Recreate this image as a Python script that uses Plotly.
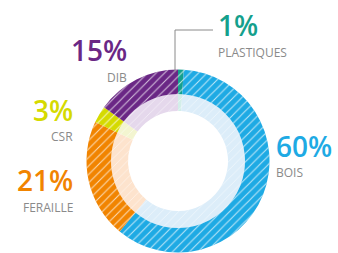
import plotly.graph_objects as go

categories = ["PLASTIQUES", "BOIS", "FERAILLE", "CSR", "DIB"]
values = [1, 60, 21, 3, 15]
pct_labels = ["1%", "60%", "21%", "3%", "15%"]
colors = ["#14a08c", "#1eaae4", "#f18400", "#d5da00", "#6a2785"]
light_colors = ["#d3eee9", "#dcedf9", "#fde3cd", "#f3f5d0", "#e5d8ec"]

W, H = 338, 253
cx, cy = 178, 161          # donut centre (px)
r_out, r_mid, r_hole = 91.5, 67, 50


def dom(r):
    return dict(x=[(cx - r) / W, (cx + r) / W],
                y=[(H - cy - r) / H, (H - cy + r) / H])


def ring(cols, hole, r, pattern=None):
    marker = dict(colors=cols, line=dict(width=0))
    if pattern:
        marker["pattern"] = pattern
    return go.Pie(labels=categories, values=values, sort=False,
                  direction="clockwise", rotation=0, hole=hole,
                  domain=dom(r), textinfo="none", showlegend=False,
                  marker=marker)


clear = ["rgba(0,0,0,0)"] * len(values)
fig = go.Figure()
fig.add_trace(ring(light_colors, r_hole / r_mid, r_mid))
fig.add_trace(ring(colors, r_mid / r_out, r_out))
# hatch overlays
fig.add_trace(ring(clear, r_mid / r_out, r_out,
                   dict(shape="/", fillmode="overlay", fgcolor="white",
                        fgopacity=0.7, size=6, solidity=0.18)))
fig.add_trace(ring(clear, r_hole / r_mid, r_mid,
                   dict(shape="/", fillmode="overlay", fgcolor="white",
                        fgopacity=0.5, size=6, solidity=0.15)))

grey = "#8a8a8a"
FONT = "Open Sans"
label_pos = [
    (0, 216, "left", 25, 52),
    (1, 274, "left", 146, 172),
    (2, 75, "right", 180, 207),
    (3, 75, "right", 110, 136),
    (4, 129, "right", 50, 77),
]
for i, xp, anc, yp, yn in label_pos:
    fig.add_annotation(x=xp / W, y=1 - yp / H, xref="paper", yref="paper",
                       text=pct_labels[i], showarrow=False, xanchor=anc,
                       yanchor="middle",
                       font=dict(family=FONT, size=28, color=colors[i], weight=600))
    fig.add_annotation(x=xp / W, y=1 - yn / H, xref="paper", yref="paper",
                       text=categories[i], showarrow=False, xanchor=anc,
                       yanchor="middle",
                       font=dict(family=FONT, size=12, color=grey))

fig.add_shape(type="path", xref="paper", yref="paper",
              path=f"M {175/W},{1-72/H} L {175/W},{1-30/H} L {213/W},{1-30/H}",
              line=dict(color="#8a8a8a", width=1))

fig.update_layout(width=W, height=H, margin=dict(l=0, r=0, t=0, b=0),
                  paper_bgcolor="white", plot_bgcolor="white")
fig.write_html("out.html", config={"displayModeBar": False},
               post_script="document.body.style.margin='0';document.body.style.overflow='hidden';")
